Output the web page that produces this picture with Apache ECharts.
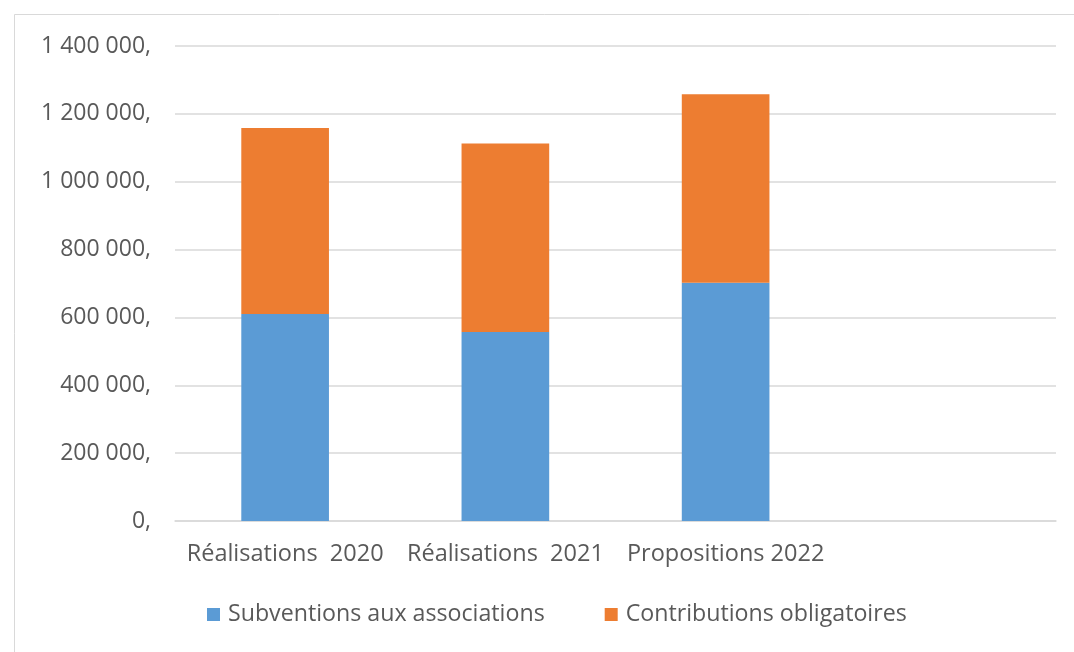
<!DOCTYPE html>
<html>
<head>
<meta charset="utf-8">
<script src="https://cdn.jsdelivr.net/npm/echarts@6/dist/echarts.min.js"></script>
<style>
html,body{margin:0;padding:0;background:#fff;}
#chart{width:1074px;height:652px;}
</style>
</head>
<body>
<div id="chart"></div>
<script>
const categories = ["Réalisations  2020", "Réalisations  2021", "Propositions 2022", ""];
const subventions = [610000, 557000, 702000, null];
const contributions = [548000, 556000, 556000, null];
const yTickLabels = ["0,", "200 000,", "400 000,", "600 000,", "800 000,", "1 000 000,", "1 200 000,", "1 400 000,"];
const seriesNames = ["Subventions aux associations", "Contributions obligatoires"];

const FONT = "'Open Sans', sans-serif";
const chart = echarts.init(document.getElementById('chart'), null, {renderer: 'canvas'});
chart.setOption({
  animation: false,
  backgroundColor: '#ffffff',
  graphic: [{
    type: 'rect', left: 12, top: 12, silent: true,
    shape: {width: 1200, height: 800},
    style: {fill: 'none', stroke: '#d9d9d9', lineWidth: 1}
  }],
  grid: {left: 175, right: 18, top: 46, bottom: 131, containLabel: false},
  legend: {
    bottom: 26, left: 207, padding: 0, itemWidth: 13, itemHeight: 13, itemGap: 60,
    icon: 'rect',
    textStyle: {color: '#595959', fontSize: 23.2, fontFamily: FONT, padding: [0, 0, 0, 3]},
    data: seriesNames
  },
  xAxis: {
    type: 'category', data: categories,
    axisLine: {lineStyle: {color: '#d9d9d9', width: 1.5}},
    axisTick: {show: false},
    axisLabel: {color: '#595959', fontSize: 23.5, fontFamily: FONT, margin: 21, interval: 0}
  },
  yAxis: {
    type: 'value', min: 0, max: 1400000, interval: 200000,
    axisLine: {show: false}, axisTick: {show: false},
    splitLine: {lineStyle: {color: '#d9d9d9', width: 1.5}},
    axisLabel: {
      color: '#595959', fontSize: 23, fontFamily: FONT, margin: 24,
      formatter: v => yTickLabels[Math.round(v / 200000)]
    }
  },
  series: [
    {name: seriesNames[0], type: 'bar', stack: 'a', data: subventions, barWidth: '39.8%',
     itemStyle: {color: '#5b9bd5'}},
    {name: seriesNames[1], type: 'bar', stack: 'a', data: contributions, barWidth: '39.8%',
     itemStyle: {color: '#ed7d31'}}
  ]
});
</script>
</body>
</html>
